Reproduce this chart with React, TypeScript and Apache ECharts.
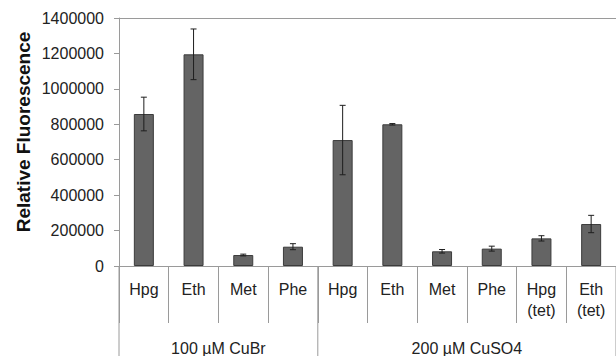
import React, { useEffect, useRef } from "react";
import * as echarts from "echarts";

const categories = ["Hpg", "Eth", "Met", "Phe", "Hpg", "Eth", "Met", "Phe", "Hpg\n(tet)", "Eth\n(tet)"];
const values = [858000, 1195000, 62000, 109000, 711000, 800000, 83000, 98000, 156000, 237000];
const errors = [95000, 143000, 5000, 17000, 196000, 4000, 10000, 14000, 15000, 49000];
const groupLabels = ["100 µM CuBr", "200 µM CuSO4"];
const groupSizes = [4, 6];
const yMin = 0;
const yMax = 1400000;
const yStep = 200000;
const yTitle = "Relative Fluorescence";

const FONT = "Liberation Sans, Arial, sans-serif";

export default function App() {
  const ref = useRef<HTMLDivElement>(null);
  useEffect(() => {
    if (!ref.current) return;
    const chart = echarts.init(ref.current, undefined, { renderer: "svg" });
    const idx = categories.map((_, i) => String(i));
    chart.setOption({
      animation: false,
      backgroundColor: "#ffffff",
      textStyle: { fontFamily: FONT },
      grid: { left: 119, top: 18, width: 500, height: 248 },
      xAxis: [
        {
          type: "category",
          data: idx,
          position: "bottom",
          axisLine: { show: true, lineStyle: { color: "#9a9a9a", width: 1 } },
          axisTick: { show: true, length: 57, interval: 0, lineStyle: { color: "#9a9a9a", width: 1 } },
          axisLabel: {
            interval: 0,
            margin: 13,
            fontSize: 16,
            lineHeight: 21,
            color: "#222",
            fontFamily: FONT,
            formatter: (_v: string, i: number) => categories[i],
          },
          splitLine: { show: false },
        },
        {
          type: "category",
          data: idx,
          position: "top",
          axisLine: { show: true, lineStyle: { color: "#9a9a9a", width: 1 } },
          axisTick: { show: false },
          axisLabel: { show: false },
        },
      ],
      yAxis: {
        type: "value",
        min: yMin,
        max: yMax,
        interval: yStep,
        axisLine: { show: true, lineStyle: { color: "#9a9a9a", width: 1 } },
        axisTick: { show: true, length: 5, lineStyle: { color: "#9a9a9a" } },
        axisLabel: {
          margin: 15,
          fontSize: 16,
          color: "#222",
          fontFamily: FONT,
          formatter: (v: number) => String(v),
        },
        splitLine: { show: false },
      },
      series: [
        {
          type: "bar",
          data: values,
          barWidth: 20,
          itemStyle: { color: "#646464", borderColor: "#3c3c3c", borderWidth: 1 },
        },
        {
          type: "custom",
          data: values.map((v, i) => [i, v, errors[i]]),
          encode: { x: 0, y: 1 },
          z: 5,
          renderItem: (_p: any, api: any) => {
            const x = api.value(0);
            const v = api.value(1);
            const e = api.value(2);
            const top = api.coord([x, v + e]);
            const bot = api.coord([x, v - e]);
            const w = 3;
            const st = { stroke: "#1e1e1e", lineWidth: 1 };
            return {
              type: "group",
              children: [
                { type: "line", shape: { x1: top[0], y1: top[1], x2: bot[0], y2: bot[1] }, style: st },
                { type: "line", shape: { x1: top[0] - w, y1: top[1], x2: top[0] + w, y2: top[1] }, style: st },
                { type: "line", shape: { x1: bot[0] - w, y1: bot[1], x2: bot[0] + w, y2: bot[1] }, style: st },
              ],
            };
          },
        },
      ],
    });

    const c0 = chart.convertToPixel({ xAxisIndex: 0 }, 0) as number;
    const c1 = chart.convertToPixel({ xAxisIndex: 0 }, 1) as number;
    const band = c1 - c0;
    const y0 = chart.convertToPixel({ yAxisIndex: 0 }, 0) as number;
    let start = c0 - band / 2;
    const elements: any[] = [];
    const bottom = 356;
    elements.push({
      type: "text",
      x: 23,
      y: 132,
      rotation: Math.PI / 2,
      style: {
        text: yTitle,
        fontSize: 19,
        fontWeight: "bold",
        fontFamily: FONT,
        fill: "#111",
        align: "center",
        verticalAlign: "middle",
      },
    });
    elements.push({
      type: "line",
      shape: { x1: start, y1: y0, x2: start, y2: bottom },
      style: { stroke: "#9a9a9a", lineWidth: 1 },
    });
    groupSizes.forEach((n, g) => {
      const end = start + n * band;
      elements.push({
        type: "line",
        shape: { x1: end, y1: y0, x2: end, y2: bottom },
        style: { stroke: "#9a9a9a", lineWidth: 1 },
      });
      elements.push({
        type: "text",
        x: (start + end) / 2,
        y: 348,
        style: {
          text: groupLabels[g],
          fontSize: 16,
          fontFamily: FONT,
          fill: "#222",
          align: "center",
          verticalAlign: "middle",
        },
      });
      start = end;
    });
    chart.setOption({ graphic: elements });

    return () => chart.dispose();
  }, []);
  return (
    <div
      ref={ref}
      style={{ position: "fixed", left: 0, top: 0, width: 616, height: 356 }}
    />
  );
}
